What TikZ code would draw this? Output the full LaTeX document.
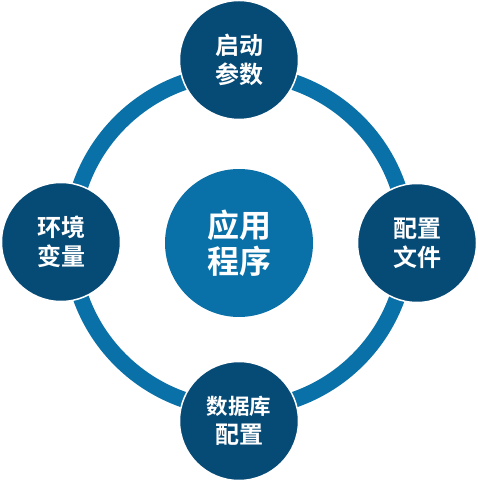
\documentclass[tikz,border=0pt]{standalone}
\usepackage{fontspec}
\newfontfamily\cjk{Noto Sans CJK SC Bold}
\definecolor{ringblue}{HTML}{0A70A8}
\definecolor{navy}{HTML}{064A76}
\begin{document}
\begin{tikzpicture}[x=1pt,y=1pt,
  sat/.style={circle,fill=navy,draw=white,line width=1.5pt,minimum size=119pt,inner sep=0pt,text=white,font=\cjk\fontsize{24}{29}\selectfont,align=center},
  hub/.style={circle,fill=ringblue,minimum size=148pt,inner sep=0pt,text=white,font=\cjk\fontsize{32}{36}\selectfont,align=center}]
\useasboundingbox (0,0) rectangle (477,481);
\coordinate (c) at (239,240);
\draw[ringblue,line width=16pt] (c) circle[radius=168];
\node[hub] (app) at (239,238) {应用\\程序};
\node[sat] (start) at (239,421) {启动\\参数};
\node[sat] (cfg) at (417,238) {配置\\文件};
\node[sat] (db) at (239,60) {\fontsize{21.5}{29}\selectfont 数据库\\配置};
\node[sat] (env) at (61,239) {环境\\变量};
\end{tikzpicture}
\end{document}
